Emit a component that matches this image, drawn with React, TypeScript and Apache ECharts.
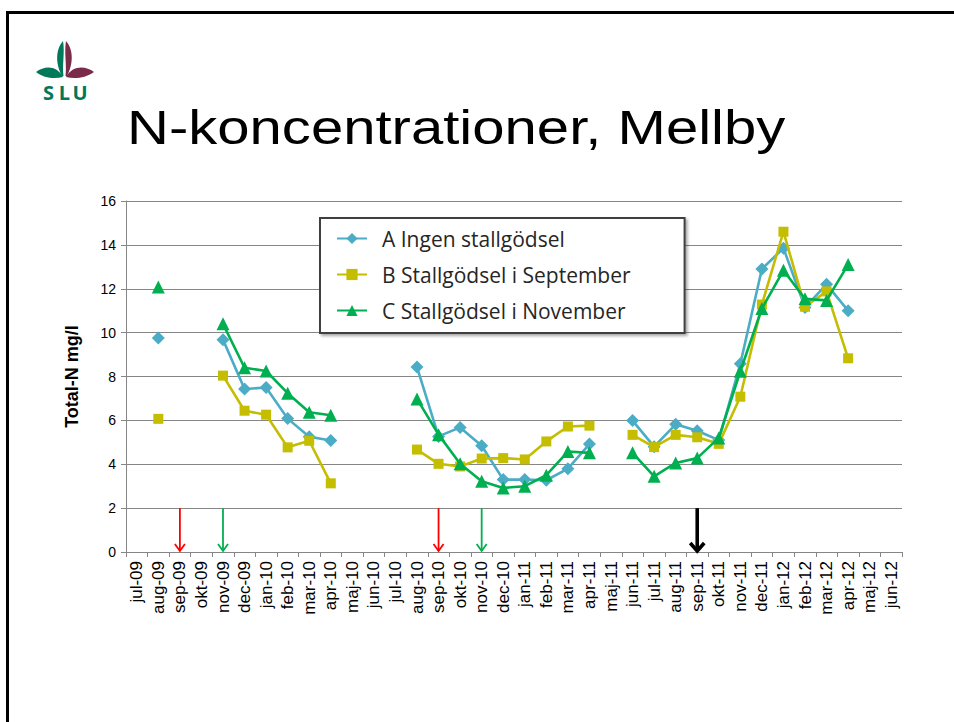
import React, { useEffect, useRef } from "react";
import * as echarts from "echarts";

const categories = [
  "jul-09", "aug-09", "sep-09", "okt-09", "nov-09", "dec-09", "jan-10", "feb-10", "mar-10", "apr-10", "maj-10", "jun-10",
  "jul-10", "aug-10", "sep-10", "okt-10", "nov-10", "dec-10", "jan-11", "feb-11", "mar-11", "apr-11", "maj-11", "jun-11",
  "jul-11", "aug-11", "sep-11", "okt-11", "nov-11", "dec-11", "jan-12", "feb-12", "mar-12", "apr-12", "maj-12", "jun-12",
];

const seriesNames = ["A Ingen stallgödsel", "B Stallgödsel i September", "C Stallgödsel i November"];

const seriesA = [
  null, 9.75, null, null, 9.68, 7.43, 7.5, 6.08, 5.25, 5.08, null, null,
  null, 8.43, 5.27, 5.68, 4.84, 3.3, 3.3, 3.27, 3.8, 4.92, null, 5.99,
  4.8, 5.82, 5.53, 5.1, 8.58, 12.9, 13.85, 11.15, 12.2, 11.0, null, null,
];
const seriesB = [
  null, 6.07, null, null, 8.04, 6.44, 6.26, 4.77, 5.07, 3.13, null, null,
  null, 4.67, 4.02, 3.9, 4.26, 4.28, 4.22, 5.04, 5.72, 5.76, null, 5.34,
  4.78, 5.34, 5.23, 4.93, 7.08, 11.28, 14.6, 11.18, 11.88, 8.83, null, null,
];
const seriesC = [
  null, 12.08, null, null, 10.4, 8.4, 8.25, 7.24, 6.37, 6.23, null, null,
  null, 6.98, 5.35, 4.02, 3.22, 2.92, 3.0, 3.5, 4.58, 4.52, null, 4.52,
  3.45, 4.06, 4.28, 5.2, 8.24, 11.1, 12.84, 11.54, 11.47, 13.1, null, null,
];

const yTicks = { min: 0, max: 16, interval: 2 };

const arrowMonths = ["sep-09", "nov-09", "sep-10", "nov-10", "sep-11"];
const arrowFrom = 2;
const arrowTo = 0;

const title = "N-koncentrationer, Mellby";
const yName = "Total-N mg/l";

const arrowColors = ["#ff0000", "#00b050", "#ff0000", "#00b050", "#000000"];
const arrowWidths = [1.8, 1.8, 1.8, 1.8, 3.6];

export default function App() {
  const ref = useRef<HTMLDivElement>(null);

  useEffect(() => {
    if (!ref.current) return;
    echarts.graphic.registerShape(
      "leafGreenV",
      echarts.graphic.extendPath("M63,41 C56.5,48 54.5,62 62,76 L63.5,76 C62,66 65,52 63,41 Z", {})
    );
    echarts.graphic.registerShape(
      "leafRedV",
      echarts.graphic.extendPath("M66,41 C64,52 67,66 65.5,76 L67,76 C74.5,62 72.5,48 66,41 Z", {})
    );
    echarts.graphic.registerShape(
      "leafGreenH",
      echarts.graphic.extendPath("M36,72 C45,65 57,65.5 63,77 C55,79 44,78.5 36,72 Z", {})
    );
    echarts.graphic.registerShape(
      "leafRedH",
      echarts.graphic.extendPath("M94,72 C85,65 72,65.5 66,77 C74,79 85,78.5 94,72 Z", {})
    );

    const chart = echarts.init(ref.current, null, { renderer: "svg" });
    const green = "#00785a";
    const maroon = "#7b2a4a";
    const arrowData = arrowMonths.map((m, i) => [categories.indexOf(m), arrowFrom, arrowTo, i]);

    const option: any = {
      animation: false,
      backgroundColor: "#ffffff",
      textStyle: { fontFamily: "Liberation Sans, Arial, sans-serif" },
      graphic: [
        { type: "line", shape: { x1: 6, y1: 12.5, x2: 960, y2: 12.5 }, style: { stroke: "#000", lineWidth: 3 } },
        { type: "line", shape: { x1: 7.5, y1: 11, x2: 7.5, y2: 730 }, style: { stroke: "#000", lineWidth: 3 } },
        { type: "leafGreenV", x: 0, y: 0, style: { fill: green } },
        { type: "leafRedV", x: 0, y: 0, style: { fill: maroon } },
        { type: "leafGreenH", x: 0, y: 0, style: { fill: green } },
        { type: "leafRedH", x: 0, y: 0, style: { fill: maroon } },
        {
          type: "text", x: 48.5, y: 92,
          style: { text: "S", fill: green, font: "bold 20px 'Open Sans', sans-serif", align: "center", verticalAlign: "middle" },
        },
        {
          type: "text", x: 64.5, y: 92,
          style: { text: "L", fill: green, font: "bold 20px 'Open Sans', sans-serif", align: "center", verticalAlign: "middle" },
        },
        {
          type: "text", x: 80, y: 92,
          style: { text: "U", fill: green, font: "bold 20px 'Open Sans', sans-serif", align: "center", verticalAlign: "middle" },
        },
        {
          type: "text", x: 127, y: 102, scaleX: 1.185, scaleY: 1,
          style: { text: title, fill: "#000", font: "49px 'Liberation Sans', Arial, sans-serif", align: "left", verticalAlign: "top" },
        },
      ],
      legend: {
        data: seriesNames,
        orient: "vertical",
        left: 320,
        top: 218,
        itemWidth: 30,
        itemHeight: 14,
        itemGap: 15,
        padding: [10, 54, 12, 16],
        borderColor: "#404040",
        borderWidth: 2,
        backgroundColor: "#ffffff",
        shadowColor: "rgba(0,0,0,0.35)",
        shadowBlur: 3,
        shadowOffsetX: 2,
        shadowOffsetY: 2,
        textStyle: { fontFamily: "'Open Sans', sans-serif", fontSize: 21, color: "#262626", padding: [0, 0, 0, 10] },
      },
      grid: { left: 126, right: 52, top: 201, bottom: 170, containLabel: false, outerBoundsMode: "none" },
      xAxis: {
        type: "category",
        data: categories,
        boundaryGap: true,
        axisLine: { show: true, lineStyle: { color: "#868686", width: 1 } },
        axisTick: { show: true, length: 5, lineStyle: { color: "#868686" } },
        axisLabel: { interval: 0, rotate: 90, fontSize: 17, color: "#000", margin: 9, fontFamily: "'Liberation Sans', Arial, sans-serif" },
        splitLine: { show: false },
      },
      yAxis: {
        type: "value",
        min: yTicks.min,
        max: yTicks.max,
        interval: yTicks.interval,
        name: yName,
        nameLocation: "middle",
        nameGap: 45,
        nameTextStyle: { fontWeight: "bold", fontSize: 18, color: "#000", fontFamily: "'Liberation Sans', Arial, sans-serif" },
        axisLine: { show: true, lineStyle: { color: "#868686", width: 1 } },
        axisTick: { show: true, length: 5, lineStyle: { color: "#868686" } },
        axisLabel: { fontSize: 14, color: "#000", margin: 10, fontFamily: "'Liberation Sans', Arial, sans-serif" },
        splitLine: { show: true, lineStyle: { color: "#868686", width: 1 } },
      },
      series: [
        {
          name: seriesNames[0], type: "line", data: seriesA, connectNulls: false, showAllSymbol: true,
          symbol: "diamond", symbolSize: 13,
          itemStyle: { color: "#4bacc6" }, lineStyle: { color: "#4bacc6", width: 2.6 }, z: 3,
        },
        {
          name: seriesNames[1], type: "line", data: seriesB, connectNulls: false, showAllSymbol: true,
          symbol: "rect", symbolSize: 10,
          itemStyle: { color: "#c4bd00" }, lineStyle: { color: "#c4bd00", width: 2.6 }, z: 4,
        },
        {
          name: seriesNames[2], type: "line", data: seriesC, connectNulls: false, showAllSymbol: true,
          symbol: "triangle", symbolSize: 13,
          itemStyle: { color: "#00b050" }, lineStyle: { color: "#00b050", width: 2.6 }, z: 5,
        },
        {
          name: "arrows", type: "custom", data: arrowData, silent: true, z: 2,
          encode: { x: 0, y: 1 },
          renderItem: (params: any, api: any) => {
            const idx = api.value(0);
            const k = api.value(3);
            const top = api.coord([idx, api.value(1)]);
            const bot = api.coord([idx, api.value(2)]);
            const color = arrowColors[k];
            const w = arrowWidths[k];
            const hw = w > 2 ? 7 : 5;
            const hl = w > 2 ? 9 : 8;
            return {
              type: "group",
              children: [
                { type: "line", shape: { x1: top[0], y1: top[1], x2: bot[0], y2: bot[1] - 1 }, style: { stroke: color, lineWidth: w } },
                {
                  type: "polyline",
                  shape: { points: [[bot[0] - hw, bot[1] - hl], [bot[0], bot[1] - 1], [bot[0] + hw, bot[1] - hl]] },
                  style: { stroke: color, lineWidth: w, fill: "none" },
                },
              ],
            };
          },
        },
      ],
    };
    chart.setOption(option);
    return () => chart.dispose();
  }, []);

  return <div ref={ref} style={{ position: "absolute", left: 0, top: 0, width: 954, height: 722 }} />;
}
